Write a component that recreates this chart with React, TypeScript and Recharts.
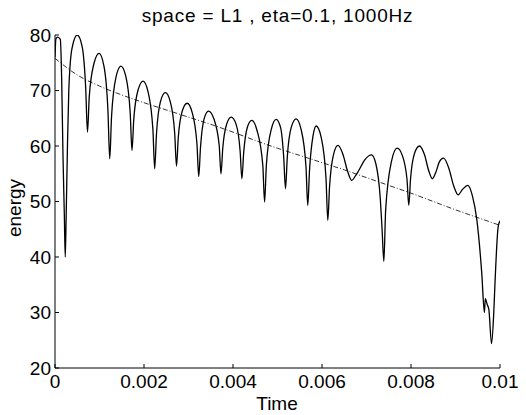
import React from "react";
import { LineChart, Line, XAxis, YAxis } from "recharts";

// energy trace (solid)
const solidTime = [
  0, 0.00002, 0.00006, 0.00012, 0.00015, 0.00018, 0.00021, 0.00023, 0.00025, 0.00028,
  0.00031, 0.00038, 0.0005, 0.00061, 0.00069, 0.00073, 0.00077, 0.00088, 0.00099, 0.0011,
  0.00119, 0.00123, 0.00127, 0.00137, 0.00148, 0.00159, 0.00169, 0.00173, 0.00177, 0.00187,
  0.00198, 0.00209, 0.0022, 0.00224, 0.00228, 0.00237, 0.00248, 0.00259, 0.00269, 0.00273,
  0.00277, 0.00286, 0.00297, 0.00308, 0.00319, 0.00323, 0.00327, 0.00335, 0.00345, 0.00357,
  0.00369, 0.00373, 0.00377, 0.00386, 0.00396, 0.00407, 0.00416, 0.0042, 0.00424, 0.00432,
  0.00442, 0.00454, 0.00467, 0.00471, 0.00475, 0.00486, 0.00497, 0.00507, 0.00514, 0.00518,
  0.00522, 0.00531, 0.00542, 0.00553, 0.00564, 0.00568, 0.00572, 0.0058, 0.00587, 0.00598,
  0.00609, 0.00613, 0.00617, 0.00626, 0.00636, 0.00647, 0.00658, 0.00667, 0.00675, 0.00682,
  0.00697, 0.00711, 0.00721, 0.00731, 0.00735, 0.00739, 0.00743, 0.00756, 0.00769, 0.0078,
  0.00791, 0.00795, 0.00799, 0.00808, 0.00819, 0.0083, 0.0084, 0.00848, 0.00856, 0.00864,
  0.00873, 0.00885, 0.00896, 0.00906, 0.00916, 0.00928, 0.00938, 0.00948, 0.00959, 0.00965,
  0.00967, 0.00971, 0.00975, 0.00981, 0.00986, 0.00989, 0.00996, 0.01,
];
const solidEnergy = [
  76, 79.3, 79.6, 79.2, 72, 58, 47.5, 40, 47, 60,
  70, 77.5, 80, 77.9, 70.4, 62.5, 68.9, 75.0, 76.7, 74.4,
  66.3, 57.7, 65.2, 72.4, 74.4, 72.6, 66.0, 59.2, 64.8, 70.2,
  71.7, 69.8, 63.0, 55.9, 62.1, 68.0, 69.6, 68.0, 62.3, 56.4,
  61.5, 66.3, 67.7, 66.1, 60.4, 54.5, 59.8, 64.9, 66.3, 64.9,
  60.1, 55.0, 59.6, 64.0, 65.2, 63.9, 59.1, 54.1, 58.8, 63.3,
  64.6, 62.8, 56.5, 49.9, 56.6, 63.0, 64.8, 63.3, 57.9, 52.3,
  58.0, 63.4, 64.9, 63.0, 56.3, 49.3, 55.7, 61.9, 63.6, 61.6,
  54.2, 46.6, 52.7, 58.5, 60.1, 58.5, 55.3, 53.8, 54.6, 55.5,
  57.6, 58.4, 56.8, 50.5, 45, 39.2, 48.4, 57.2, 59.6, 58.4,
  54.0, 49.3, 54.1, 58.7, 60.0, 58.5, 55.5, 54.1, 55.3, 57.2,
  57.8, 56.0, 52.8, 51.2, 52.2, 52.9, 51.0, 46.7, 37.1, 30.0,
  32.5, 31.5, 30.5, 24.4, 30, 35.8, 45.5, 46.5,
];

// trend (dash-dot)
const trendTime = [
  0, 0.0005, 0.001, 0.0015, 0.002, 0.0025, 0.003, 0.0035, 0.004, 0.0045, 0.005,
  0.0055, 0.006, 0.0065, 0.007, 0.0075, 0.008, 0.0085, 0.009, 0.0095, 0.01,
];
const trendEnergy = [
  75.8, 72.8, 70.8, 69.2, 67.8, 66.5, 65.2, 63.9, 62.5, 61.0, 59.6,
  58.3, 57.0, 55.7, 54.3, 52.9, 51.5, 50.0, 48.5, 47.1, 45.7,
];

const xTicks = [0, 0.002, 0.004, 0.006, 0.008, 0.01];
const yTicks = [20, 30, 40, 50, 60, 70, 80];

const solidData = solidTime.map((t, i) => ({ t, e: solidEnergy[i] }));
const trendData = trendTime.map((t, i) => ({ t, e: trendEnergy[i] }));

const font = '"Liberation Sans", Arial, sans-serif';
const tickStyle = { fill: "#000", fontSize: 19, fontFamily: font };

export default function App() {
  return (
    <div style={{ position: "absolute", left: 0, top: 0, width: 526, height: 415, background: "#fff", fontFamily: font }}>
      <div style={{ position: "absolute", left: 55, width: 445, top: 6, textAlign: "center", fontSize: 19, letterSpacing: 0.8, lineHeight: "19px", color: "#000" }}>
        space = L1 , eta=0.1, 1000Hz
      </div>
      <LineChart width={526} height={415} data={solidData} margin={{ top: 35, right: 26, bottom: 17, left: 5 }}>
        <XAxis
          xAxisId="b"
          dataKey="t"
          type="number"
          domain={[0, 0.01]}
          ticks={xTicks}
          height={30}
          tickSize={-4}
          tickMargin={11}
          tick={tickStyle}
          stroke="#000"
          allowDataOverflow
        />
        <XAxis xAxisId="t" dataKey="t" type="number" orientation="top" domain={[0, 0.01]} ticks={xTicks} height={0} tickSize={-4} tick={false} stroke="#000" />
        <YAxis
          yAxisId="l"
          type="number"
          domain={[20, 80]}
          ticks={yTicks}
          width={50}
          tickSize={-4}
          tickMargin={8}
          tick={tickStyle}
          stroke="#000"
          allowDataOverflow
        />
        <YAxis yAxisId="r" type="number" orientation="right" domain={[20, 80]} ticks={yTicks} width={0} tickSize={-4} tick={false} stroke="#000" />
        <Line
          xAxisId="b"
          yAxisId="l"
          data={trendData}
          dataKey="e"
          type="monotone"
          stroke="#333"
          strokeWidth={1}
          strokeDasharray="5 2 1 2"
          dot={false}
          isAnimationActive={false}
        />
        <Line
          xAxisId="b"
          yAxisId="l"
          data={solidData}
          dataKey="e"
          type="monotone"
          stroke="#000"
          strokeWidth={1.3}
          dot={false}
          isAnimationActive={false}
        />
      </LineChart>
      <div style={{ position: "absolute", left: 250, width: 54, top: 394, textAlign: "center", fontSize: 19, lineHeight: "19px", color: "#000" }}>
        Time
      </div>
      <div
        style={{
          position: "absolute",
          left: 14,
          top: 208,
          fontSize: 19,
          lineHeight: "19px",
          color: "#000",
          whiteSpace: "nowrap",
          transform: "translate(-50%, -50%) rotate(-90deg)",
        }}
      >
        energy
      </div>
    </div>
  );
}
